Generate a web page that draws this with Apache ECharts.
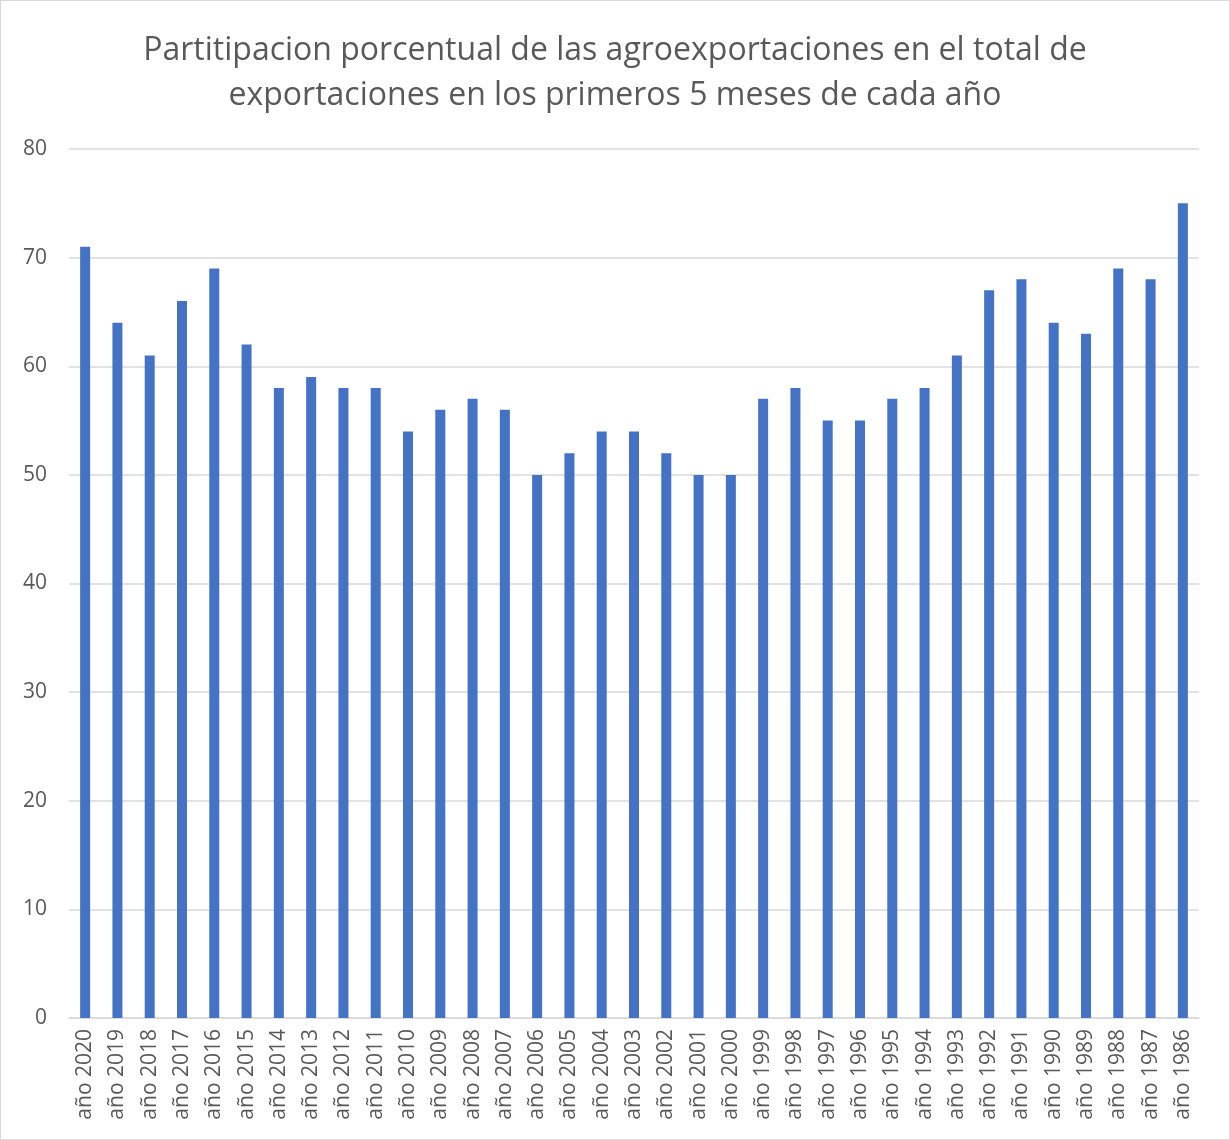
<!DOCTYPE html>
<html>
<head>
<meta charset="utf-8">
<script src="https://cdn.jsdelivr.net/npm/echarts@6/dist/echarts.min.js"></script>
<style>
  html, body { margin: 0; padding: 0; background: #fff; }
  #chart { width: 1230px; height: 1140px; box-sizing: border-box; border: 1px solid #d9d9d9; }
</style>
</head>
<body>
<div id="chart"></div>
<script>
// categories (year labels, as on the axis)
const years = [
  'año 2020', 'año 2019', 'año 2018', 'año 2017', 'año 2016', 'año 2015', 'año 2014',
  'año 2013', 'año 2012', 'año 2011', 'año 2010', 'año 2009', 'año 2008', 'año 2007',
  'año 2006', 'año 2005', 'año 2004', 'año 2003', 'año 2002', 'año 2001', 'año 2000',
  'año 1999', 'año 1998', 'año 1997', 'año 1996', 'año 1995', 'año 1994', 'año 1993',
  'año 1992', 'año 1991', 'año 1990', 'año 1989', 'año 1988', 'año 1987', 'año 1986'
];
// share of agro exports in total exports (%)
const shares = [
  71, 64, 61, 66, 69, 62, 58,
  59, 58, 58, 54, 56, 57, 56,
  50, 52, 54, 54, 52, 50, 50,
  57, 58, 55, 55, 57, 58, 61,
  67, 68, 64, 63, 69, 68, 75
];
const titleText = 'Partitipacion porcentual de las agroexportaciones en el total de\nexportaciones en los primeros 5 meses de cada año';

const chart = echarts.init(document.getElementById('chart'));
const font = '"Open Sans", "Noto Sans", sans-serif';

chart.setOption({
  animation: false,
  backgroundColor: '#fff',
  title: {
    text: titleText,
    left: 'center',
    top: 22,
    textStyle: {
      color: '#595959',
      fontSize: 32,
      fontWeight: 'normal',
      fontFamily: font,
      lineHeight: 45
    }
  },
  grid: { left: 68, right: 30, top: 148, bottom: 121 },
  xAxis: {
    type: 'category',
    data: years,
    axisTick: { show: false },
    axisLine: { lineStyle: { color: '#d9d9d9', width: 1.5 } },
    axisLabel: {
      rotate: 90,
      interval: 0,
      margin: 11,
      color: '#595959',
      fontSize: 21,
      fontFamily: font
    }
  },
  yAxis: {
    type: 'value',
    min: 0,
    max: 80,
    interval: 10,
    axisLine: { show: false },
    axisTick: { show: false },
    splitLine: { lineStyle: { color: '#d9d9d9', width: 1.5 } },
    axisLabel: {
      margin: 22,
      color: '#595959',
      fontSize: 21,
      fontFamily: font
    }
  },
  series: [{
    type: 'bar',
    data: shares,
    barWidth: 10,
    itemStyle: { color: '#4472c4' }
  }]
});
</script>
</body>
</html>
